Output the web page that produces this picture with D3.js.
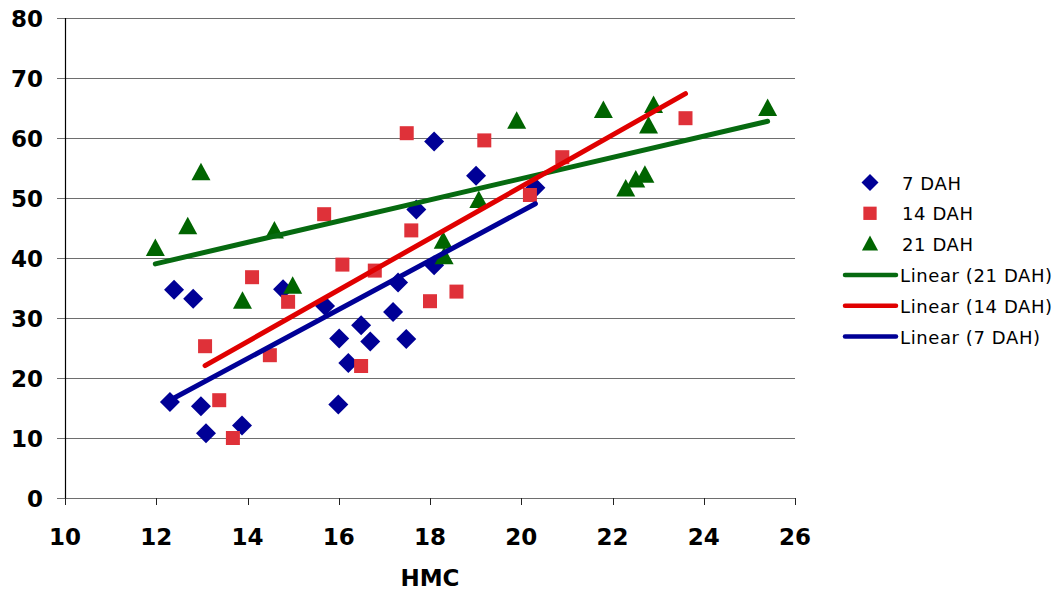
<!DOCTYPE html>
<html>
<head>
<meta charset="utf-8">
<script src="https://cdn.jsdelivr.net/npm/d3@7"></script>
<style>
  html, body { margin: 0; padding: 0; background: #fff; }
  svg { display: block; }
</style>
</head>
<body>
<div id="chart"></div>
<script>
// HMC readings (x) and measured values (y) for each sampling date
const dah7X  = [12.30, 12.39, 12.81, 12.98, 13.09, 13.88, 14.78, 15.70, 15.99, 16.01, 16.21, 16.49, 16.69, 17.19, 17.30, 17.48, 17.70, 18.09, 18.09, 19.01, 20.31];
const dah7Y  = [16.0, 34.7, 33.2, 15.3, 10.8, 12.1, 34.8, 32.0, 15.6, 26.6, 22.5, 28.8, 26.1, 31.0, 35.9, 26.5, 48.1, 38.8, 59.4, 53.7, 51.7];
const dah14X = [13.07, 13.38, 13.68, 14.10, 14.49, 14.89, 15.68, 16.08, 16.49, 16.79, 17.49, 17.59, 18.00, 18.58, 19.19, 20.19, 20.90, 23.60];
const dah14Y = [25.3, 16.3, 10.0, 36.8, 23.8, 32.7, 47.3, 38.9, 22.0, 37.9, 60.8, 44.6, 32.8, 34.4, 59.6, 50.5, 56.8, 63.3];
const dah21X = [11.98, 12.69, 12.98, 13.89, 14.59, 14.99, 18.29, 18.31, 19.07, 19.90, 21.80, 22.29, 22.51, 22.71, 22.79, 22.90, 25.40];
const dah21Y = [41.6, 45.2, 54.2, 32.8, 44.5, 35.3, 42.8, 40.2, 49.6, 62.8, 64.6, 51.5, 53.0, 53.8, 62.0, 65.4, 64.9];

const seriesNames = ["7 DAH", "14 DAH", "21 DAH"];
const xTicks = [10, 12, 14, 16, 18, 20, 22, 24, 26];
const yTicks = [0, 10, 20, 30, 40, 50, 60, 70, 80];

const W = 1061, H = 593;
const plot = { left: 65, right: 795, top: 18, bottom: 498 };

const x = d3.scaleLinear().domain([10, 26]).range([plot.left, plot.right]);
const y = d3.scaleLinear().domain([0, 80]).range([plot.bottom, plot.top]);

const series = [
  { name: seriesNames[0], xs: dah7X,  ys: dah7Y,  shape: "diamond",  fill: "#000096", line: "#000096" },
  { name: seriesNames[1], xs: dah14X, ys: dah14Y, shape: "square",   fill: "#DF3139", line: "#E00000" },
  { name: seriesNames[2], xs: dah21X, ys: dah21Y, shape: "triangle", fill: "#006400", line: "#066A10" }
];

// least-squares fit over each series' own x range
function linearFit(xs, ys) {
  const mx = d3.mean(xs), my = d3.mean(ys);
  let sxy = 0, sxx = 0;
  xs.forEach((v, i) => { sxy += (v - mx) * (ys[i] - my); sxx += (v - mx) * (v - mx); });
  const b = sxy / sxx, a = my - b * mx;
  const [x0, x1] = d3.extent(xs);
  return [[x0, a + b * x0], [x1, a + b * x1]];
}

function markerPath(shape) {
  if (shape === "diamond") return "M0,-10L10,0L0,10L-10,0Z";
  if (shape === "square") return "M-7,-7H7V7H-7Z";
  return "M0,-10L9.5,7.5L-9.5,7.5Z";
}

const svg = d3.select("#chart").append("svg")
  .attr("width", W).attr("height", H);

// horizontal gridlines with short ticks left of the axis
svg.append("g").selectAll("line").data(yTicks).join("line")
  .attr("x1", plot.left - 8).attr("x2", plot.right)
  .attr("y1", d => Math.round(y(d)) + 0.5).attr("y2", d => Math.round(y(d)) + 0.5)
  .attr("stroke", "#6e6e6e").attr("stroke-width", 1.2);

// y axis line
svg.append("line")
  .attr("x1", plot.left + 0.5).attr("x2", plot.left + 0.5)
  .attr("y1", plot.top).attr("y2", plot.bottom + 1)
  .attr("stroke", "#000").attr("stroke-width", 1.2);

// x axis ticks
svg.append("g").selectAll("line").data(xTicks).join("line")
  .attr("x1", d => Math.round(x(d)) + 0.5).attr("x2", d => Math.round(x(d)) + 0.5)
  .attr("y1", plot.bottom).attr("y2", plot.bottom + 7)
  .attr("stroke", "#222").attr("stroke-width", 1);

const tickFont = "'DejaVu Sans', Verdana, sans-serif";

svg.append("g").selectAll("text").data(yTicks).join("text")
  .attr("x", 43).attr("y", d => y(d) + 1)
  .attr("text-anchor", "end").attr("dominant-baseline", "central")
  .attr("font-family", tickFont).attr("font-weight", "bold").attr("font-size", 23)
  .attr("fill", "#000").text(d => d);

svg.append("g").selectAll("text").data(xTicks).join("text")
  .attr("x", d => x(d)).attr("y", 537)
  .attr("text-anchor", "middle").attr("dominant-baseline", "central")
  .attr("font-family", tickFont).attr("font-weight", "bold").attr("font-size", 23)
  .attr("fill", "#000").text(d => d);

svg.append("text")
  .attr("x", (plot.left + plot.right) / 2).attr("y", 578)
  .attr("text-anchor", "middle").attr("dominant-baseline", "central")
  .attr("font-family", tickFont).attr("font-weight", "bold").attr("font-size", 23)
  .text("HMC");

// data markers
series.forEach(s => {
  svg.append("g").selectAll("path").data(s.xs.map((v, i) => [v, s.ys[i]])).join("path")
    .attr("transform", d => `translate(${x(d[0])},${y(d[1])})`)
    .attr("d", markerPath(s.shape))
    .attr("fill", s.fill);
});

// linear trendlines, drawn 21, 14, 7
const trendOrder = [2, 1, 0];
trendOrder.forEach(k => {
  const s = series[k];
  const seg = linearFit(s.xs, s.ys);
  svg.append("line")
    .attr("x1", x(seg[0][0])).attr("y1", y(seg[0][1]))
    .attr("x2", x(seg[1][0])).attr("y2", y(seg[1][1]))
    .attr("stroke", s.line).attr("stroke-width", 5).attr("stroke-linecap", "round");
});

// legend
const legendFont = "'DejaVu Sans', Verdana, sans-serif";
const legendRows = [
  { kind: "marker", s: series[0], label: seriesNames[0] },
  { kind: "marker", s: series[1], label: seriesNames[1] },
  { kind: "marker", s: series[2], label: seriesNames[2] },
  { kind: "line", s: series[2], label: "Linear (" + seriesNames[2] + ")" },
  { kind: "line", s: series[1], label: "Linear (" + seriesNames[1] + ")" },
  { kind: "line", s: series[0], label: "Linear (" + seriesNames[0] + ")" }
];
const lg = svg.append("g");
legendRows.forEach((r, i) => {
  const cy = 182.5 + i * 30.8;
  if (r.kind === "marker") {
    const scale = r.s.shape === "square" ? 0.95 : 0.85;
    lg.append("path")
      .attr("transform", `translate(870,${cy}) scale(${scale})`)
      .attr("d", markerPath(r.s.shape)).attr("fill", r.s.fill);
  } else {
    lg.append("line")
      .attr("x1", 845).attr("x2", 896).attr("y1", cy).attr("y2", cy)
      .attr("stroke", r.s.line).attr("stroke-width", 4.5).attr("stroke-linecap", "round");
  }
  lg.append("text")
    .attr("x", r.kind === "marker" ? 902 : 900).attr("y", cy + 0.5)
    .attr("dominant-baseline", "central")
    .attr("font-family", legendFont).attr("font-size", 18)
    .attr("letter-spacing", 0.6)
    .attr("fill", "#000").text(r.label);
});
</script>
</body>
</html>
